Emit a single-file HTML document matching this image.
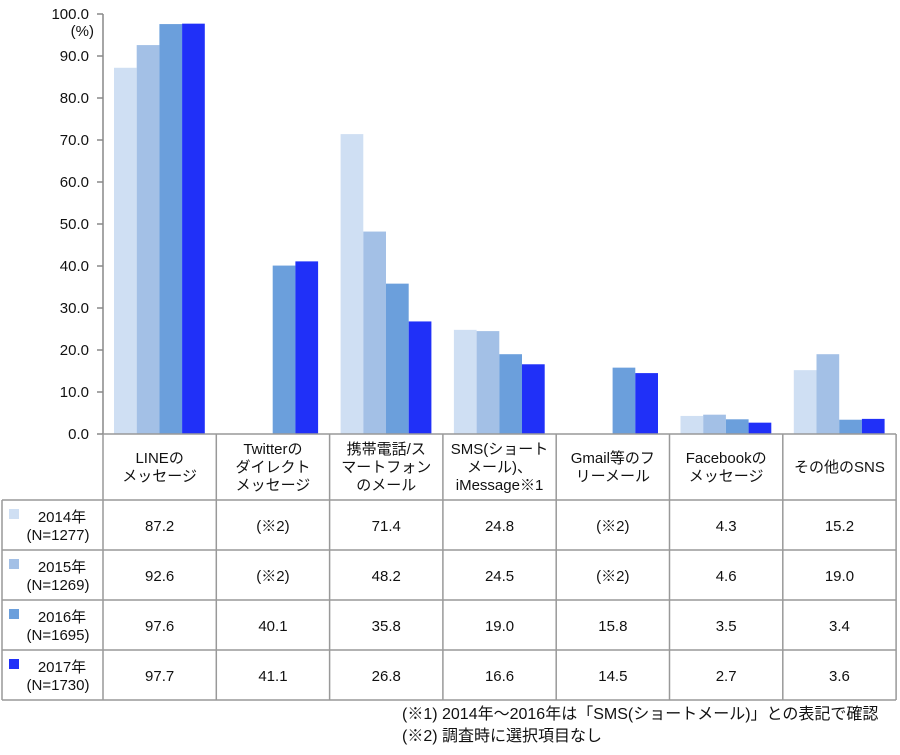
<!DOCTYPE html>
<html><head><meta charset="utf-8">
<style>
body{margin:0;background:#fff;width:900px;height:750px;overflow:hidden;font-family:"Liberation Sans","Noto Sans CJK JP",sans-serif;color:#111}
svg text{font-family:"Liberation Sans","Noto Sans CJK JP",sans-serif;fill:#111}
</style></head><body>
<svg width="900" height="750" id="c">
</svg>
<script>
const categories=[["LINEの","メッセージ"],["Twitterの","ダイレクト","メッセージ"],["携帯電話/ス","マートフォン","のメール"],["SMS(ショート","メール)、","iMessage※1"],["Gmail等のフ","リーメール"],["Facebookの","メッセージ"],["その他のSNS"]];
const seriesNames=[["2014年","(N=1277)"],["2015年","(N=1269)"],["2016年","(N=1695)"],["2017年","(N=1730)"]];
const v2014=[87.2,null,71.4,24.8,null,4.3,15.2];
const v2015=[92.6,null,48.2,24.5,null,4.6,19.0];
const v2016=[97.6,40.1,35.8,19.0,15.8,3.5,3.4];
const v2017=[97.7,41.1,26.8,16.6,14.5,2.7,3.6];
const yTicks=[0,10,20,30,40,50,60,70,80,90,100];
const colors=["#cfdff3","#a3c0e6","#6b9fdc","#2030f8"];
const series=[v2014,v2015,v2016,v2017];
const svg=document.getElementById('c');
const NS='http://www.w3.org/2000/svg';
const x0=103,colW=113.3,y0=434,yTop=14;
const y=v=>y0-(v/100)*(y0-yTop);
const colX=i=>x0+i*colW;
function mk(t,a){const e=document.createElementNS(NS,t);for(const k in a)e.setAttribute(k,a[k]);svg.appendChild(e);return e;}
function txt(x,yy,s,a){const e=mk('text',Object.assign({x:x,y:yy,'font-size':15},a||{}));e.textContent=s;return e;}
let ax=mk('line',{x1:x0,y1:yTop,x2:x0,y2:y0,stroke:'#888','stroke-width':1.5});


yTicks.forEach(t=>{
 let l=mk('line',{x1:x0-6,x2:x0,y1:y(t),y2:y(t),stroke:'#888','stroke-width':1.5});
 
 
 let e=txt(89,y(t)+5,t.toFixed(1),{'text-anchor':'end'});
 
 
});
let u=txt(94,36,'(%)',{'text-anchor':'end'});


const bw=22.7,pad=11;
series.forEach((s,si)=>{s.forEach((v,ci)=>{if(v==null)return;
 let r=mk('rect',{x:colX(ci)+pad+si*bw,y:y(v),width:bw,height:y0-y(v),fill:colors[si]});
 
 
});});
const g='#999';
const hTop=434,rows=[500,550,600,650,700];
mk('line',{x1:x0,y1:y0,x2:896,y2:y0,stroke:g,'stroke-width':1.5});
for(let i=0;i<=7;i++)mk('line',{x1:colX(i),y1:hTop,x2:colX(i),y2:700,stroke:g,'stroke-width':1.5});
mk('line',{x1:2,y1:500,x2:2,y2:700,stroke:g,'stroke-width':1.5});
rows.forEach(r=>mk('line',{x1:2,y1:r,x2:896,y2:r,stroke:g,'stroke-width':1.5}));
categories.forEach((c,ci)=>{const cx=colX(ci)+colW/2;const n=c.length;const st=467-(n-1)*9+5;
 c.forEach((s,k)=>{let e=txt(cx,st+k*18,s,{'text-anchor':'middle'});
 
 });});
series.forEach((s,si)=>{const ry=rows[si];
 let sw=mk('rect',{x:9,y:ry+9,width:10,height:10,fill:colors[si]});
 
 
 let a=txt(62,ry+22,seriesNames[si][0],{'text-anchor':'middle'});
 
 
 let b=txt(58,ry+40,seriesNames[si][1],{'text-anchor':'middle'});
 
 
 s.forEach((v,ci)=>{let e=txt(colX(ci)+colW/2,ry+31,v==null?'(※2)':v.toFixed(1),{'text-anchor':'middle'});
 
 });
});
let f1=txt(402,719,'(※1) 2014年～2016年は「SMS(ショートメール)」との表記で確認',{'font-size':16});


let f2=txt(402,741,'(※2) 調査時に選択項目なし',{'font-size':16});


</script>
</body></html>
